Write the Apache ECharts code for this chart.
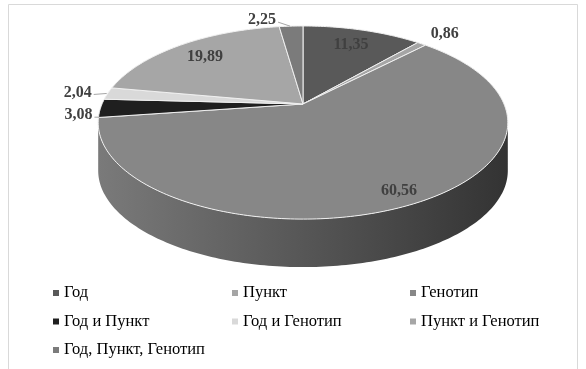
<!DOCTYPE html>
<html><head><meta charset="utf-8">
<script src="https://cdn.jsdelivr.net/npm/echarts@6/dist/echarts.min.js"></script>
<style>html,body{margin:0;padding:0;background:#fff}#c{width:586px;height:369px}</style>
</head><body><div id="c"></div>
<script>
// ---- data ----
const categories = ['Год','Пункт','Генотип','Год и Пункт','Год и Генотип','Пункт и Генотип','Год, Пункт, Генотип'];
const values = [11.35, 0.86, 60.56, 3.08, 2.04, 19.89, 2.25];
const valueLabels = ['11,35','0,86','60,56','3,08','2,04','19,89','2,25'];
const sliceColors = ['#595959','#a5a5a5','#878787','#1f1f1f','#d9d9d9','#a6a6a6','#7b7b7b'];
const legendColumns = [[0,3,6],[1,4],[2,5]];

// ---- layout / style (not data) ----
const CX = 303, CY = 104, A = 201, B = 93, K = 0.192, DEPTH = 48;
const SERIF = '"Liberation Serif", "Times New Roman", serif';
const LABEL_FONT = 'bold 16px ' + SERIF;
const labelStyleCfg = {
  'Год': {r: 0.78},
  'Генотип': {r: 0.89},
  'Пункт и Генотип': {r: 0.78},
  'Пункт': {outside: true, dx: 9, dy: -10, align: 'left', leader: false},
  'Год и Пункт': {outside: true, dx: -8, dy: 7, align: 'right', leader: true, ldy: 9},
  'Год и Генотип': {outside: true, dx: -16, dy: -1, align: 'right', leader: true, ldy: 0},
  'Год, Пункт, Генотип': {outside: true, dx: -15, dy: -6, align: 'right', leader: true, ldy: 0}
};

const total = values.reduce((s, v) => s + v, 0);
const cum = [0];
values.forEach(v => cum.push(cum[cum.length - 1] + v));
const toAng = v => v / total * Math.PI * 2;

function proj(t, r, dy) {
  const u = r * Math.sin(t), v = r * Math.cos(t), d = 1 + K * v;
  return [CX + A * u / d, CY - B * v / d + (dy || 0)];
}
function shade(hex, f) {
  const n = parseInt(hex.slice(1), 16);
  const c = [(n >> 16) & 255, (n >> 8) & 255, n & 255].map(x => Math.max(0, Math.min(255, Math.round(x * f))));
  return 'rgb(' + c.join(',') + ')';
}
function arcPts(t1, t2, r, dy) {
  const pts = [];
  const steps = Math.max(2, Math.ceil((t2 - t1) / (Math.PI / 180)));
  for (let i = 0; i <= steps; i++) pts.push(proj(t1 + (t2 - t1) * i / steps, r, dy));
  return pts;
}

const visLo = Math.acos(-K), visHi = Math.PI * 2 - Math.acos(-K);

function makeRender(idx) {
  return function (params, api) {
    const t1 = toAng(cum[idx]), t2 = toAng(cum[idx + 1]);
    const base = sliceColors[idx];
    const children = [];
    const w1 = Math.max(t1, visLo), w2 = Math.min(t2, visHi);
    if (w2 > w1) {
      const top = arcPts(w1, w2, 1, 0);
      const bot = arcPts(w1, w2, 1, DEPTH).reverse();
      children.push({
        type: 'polygon', z2: 1,
        shape: {points: top.concat(bot)},
        style: {
          fill: new echarts.graphic.LinearGradient(CX - A * 1.02, 0, CX + A * 1.02, 0, [
            {offset: 0, color: shade(base, 0.9)},
            {offset: 1, color: shade(base, 0.38)}
          ], true),
          stroke: null
        }
      });
    }
    const face = [[CX, CY]].concat(arcPts(t1, t2, 1, 0));
    children.push({
      type: 'polygon', z2: 2,
      shape: {points: face},
      style: {fill: base, stroke: '#f0f0f0', lineWidth: 1, lineJoin: 'round'}
    });
    const cfg = labelStyleCfg[categories[idx]] || {r: 0.78};
    const mid = (t1 + t2) / 2;
    if (cfg.outside) {
      const an = proj(mid, 1, 0);
      const tx = an[0] + cfg.dx, ty = an[1] + cfg.dy;
      children.push({
        type: 'text', z2: 4, x: tx, y: ty,
        style: {text: valueLabels[idx], font: LABEL_FONT, fill: '#404040', align: cfg.align, verticalAlign: 'middle'}
      });
      if (cfg.leader) {
        children.push({
          type: 'polyline', z2: 3,
          shape: {points: [[tx + 2, ty + 2], [an[0] - 1, an[1] + (cfg.ldy || 0)]]},
          style: {stroke: '#a6a6a6', lineWidth: 1, fill: null}
        });
      }
    } else {
      const p = proj(mid, cfg.r, 0);
      children.push({
        type: 'text', z2: 4, x: p[0], y: p[1],
        style: {text: valueLabels[idx], font: LABEL_FONT, fill: '#404040', align: 'center', verticalAlign: 'middle'}
      });
    }
    return {type: 'group', children: children};
  };
}

const chart = echarts.init(document.getElementById('c'), null, {renderer: 'canvas'});
const legendLeft = [53, 232, 410];
chart.setOption({
  animation: false,
  backgroundColor: '#ffffff',
  graphic: [{
    type: 'rect', silent: true, z: -1,
    shape: {x: 8.5, y: 4.5, width: 569, height: 380},
    style: {fill: 'none', stroke: '#d9d9d9', lineWidth: 1}
  }],
  legend: legendColumns.map((col, i) => ({
    orient: 'vertical',
    left: legendLeft[i],
    top: 284.5,
    padding: 0,
    itemGap: 11.5,
    itemWidth: 6,
    itemHeight: 6,
    icon: 'rect',
    selectedMode: false,
    data: col.map(k => categories[k]),
    textStyle: {fontFamily: SERIF, fontSize: 16.5, color: '#000', lineHeight: 16.5}
  })),
  series: categories.map((name, i) => ({
    type: 'custom',
    name: name,
    coordinateSystem: 'none',
    silent: true,
    itemStyle: {color: sliceColors[i]},
    data: [values[i]],
    renderItem: makeRender(i)
  }))
});
</script>
</body></html>
